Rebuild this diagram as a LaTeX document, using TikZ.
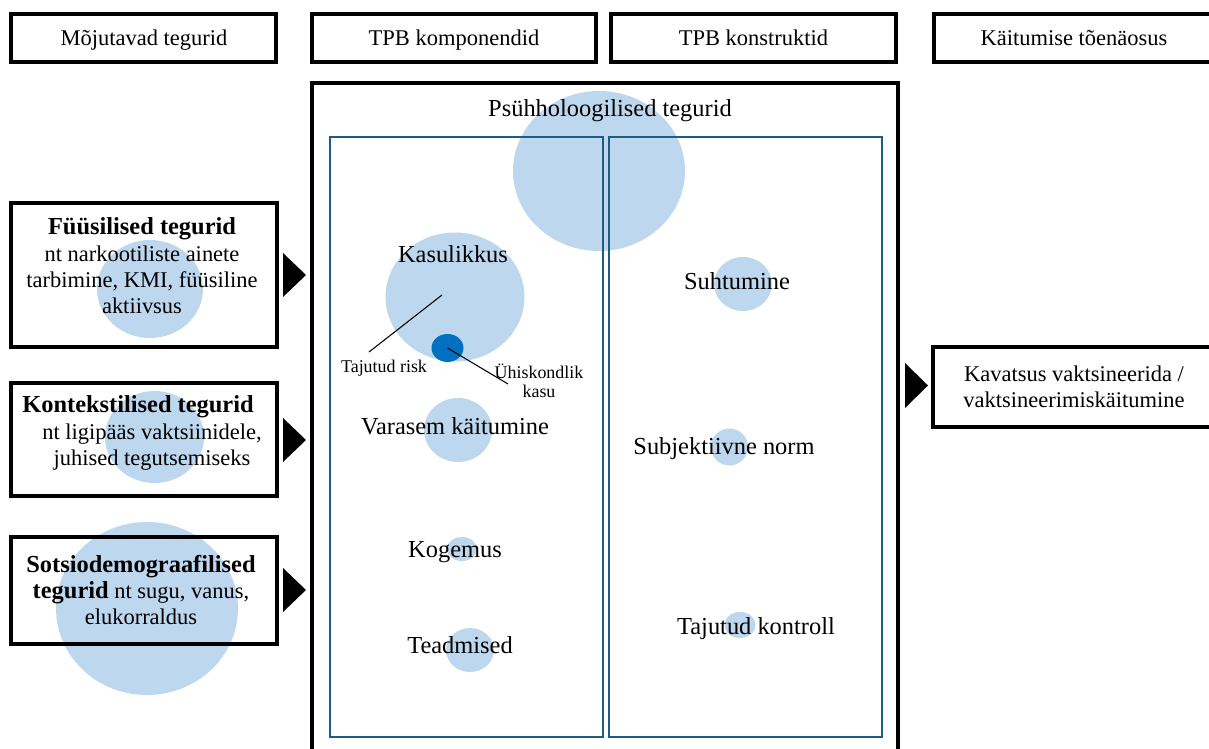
\documentclass[tikz,border=0pt]{standalone}
\usepackage{fontspec}
\setmainfont{Liberation Serif}
\usepackage{xcolor}
\definecolor{vizBubble}{HTML}{BDD7EE}
\definecolor{vizBubbleDark}{HTML}{0070C0}
\definecolor{vizPanel}{HTML}{1F5B82}
\usetikzlibrary{shapes.geometric}

\newcommand{\boxfont}{\fontsize{12.8}{15}\selectfont}
\newcommand{\labelfont}{\fontsize{13.9}{16}\selectfont}
\newcommand{\notefont}{\fontsize{10.2}{11}\selectfont}

\begin{document}
\begin{tikzpicture}[x=0.02cm, y=-0.02cm,
  bubble/.style={ellipse, fill=vizBubble, inner sep=0pt},
  frame/.style={draw=black, line width=2pt},
  panel/.style={draw=vizPanel, line width=1.2pt},
  marker/.style={fill=black},
  txt/.style={inner sep=0pt, align=center}]
  \useasboundingbox (0,0) rectangle (1209,749);
  \fill[white] (0,0) rectangle (1209,749);

  % bubbles
  \node[bubble, minimum width=3.44cm, minimum height=3.2cm] (psyB) at (599,171) {};
  \node[bubble, minimum width=2.78cm, minimum height=2.58cm] (kasB) at (455,297) {};
  \node[bubble, minimum width=1.36cm, minimum height=1.28cm] (varB) at (458,430) {};
  \node[bubble, minimum width=0.6cm, minimum height=0.48cm] (kogB) at (462,549) {};
  \node[bubble, minimum width=0.96cm, minimum height=0.88cm] (teaB) at (470,650) {};
  \node[bubble, minimum width=1.16cm, minimum height=1.08cm] (suhB) at (743,284) {};
  \node[bubble, minimum width=0.74cm, minimum height=0.74cm] (subB) at (729.5,447) {};
  \node[bubble, minimum width=0.62cm, minimum height=0.52cm] (tkB) at (740,625) {};
  \node[bubble, minimum width=2.12cm, minimum height=1.96cm] (fysB) at (150,289) {};
  \node[bubble, minimum width=1.98cm, minimum height=1.84cm] (konB) at (154.5,437) {};
  \node[bubble, minimum width=3.64cm, minimum height=3.46cm] (sotB) at (147,608.5) {};
  \node[ellipse, fill=vizBubbleDark, inner sep=0pt, minimum width=0.64cm, minimum height=0.56cm] (ukB) at (447.5,348) {};

  % frames
  \draw[frame] (11,14) rectangle (276,62);
  \draw[frame] (312,14) rectangle (596,62);
  \draw[frame] (611,14) rectangle (896,62);
  \draw[frame] (934,14) rectangle (1215,62);
  \draw[frame] (11,203) rectangle (277,347);
  \draw[frame] (11,383) rectangle (277,496);
  \draw[frame] (11,537) rectangle (277,644);
  \draw[frame] (933,347) rectangle (1215,427);
  \draw[frame] (312,83) rectangle (898,760);
  \draw[panel] (330,137) rectangle (603,737);
  \draw[panel] (609,137) rectangle (882,737);

  % markers
  \foreach \y in {275,440,590}
    \fill[marker] (283,\y-22) -- (306,\y) -- (283,\y+22) -- cycle;
  \fill[marker] (905,363) -- (928,385.5) -- (905,408) -- cycle;

  % headers
  \node[txt, font=\boxfont] (hdrA) at (144,40) {Mõjutavad tegurid};
  \node[txt, font=\boxfont] (hdrB) at (454,40) {TPB komponendid};
  \node[txt, font=\boxfont] (hdrC) at (753.5,38) {TPB konstruktid};
  \node[txt, font=\boxfont] (hdrD) at (1074,38) {Käitumise tõenäosus};

  % factors
  \node[txt, font=\boxfont] (fys) at (142,266)
    {{\labelfont\bfseries Füüsilised tegurid}\\ nt narkootiliste ainete\\ tarbimine, KMI, füüsiline\\ aktiivsus};
  \node[txt, font=\boxfont] (kon) at (138,433)
    {{\labelfont\bfseries Kontekstilised tegurid}\\ \hspace*{0.56cm}nt ligipääs vaktsiinidele,\\ \hspace*{0.56cm}juhised tegutsemiseks};
  \node[txt, font=\boxfont] (sot) at (141,590)
    {{\labelfont\bfseries Sotsiodemograafilised}\\ {\labelfont\bfseries tegurid} nt sugu, vanus,\\ elukorraldus};
  \node[txt, font=\boxfont] (out) at (1074,387)
    {Kavatsus vaktsineerida /\\ vaktsineerimiskäitumine};

  % components
  \node[txt, font=\labelfont] (psy) at (610,111) {Psühholoogilised tegurid};
  \node[txt, font=\labelfont] (kas) at (453,254) {Kasulikkus};
  \node[txt, font=\notefont] (risk) at (384,368) {Tajutud risk};
  \node[txt, font=\notefont] (uk) at (539,381) {Ühiskondlik\\ kasu};
  \node[txt, font=\labelfont] (var) at (455,426) {Varasem käitumine};
  \node[txt, font=\labelfont] (kog) at (455,552) {Kogemus};
  \node[txt, font=\labelfont] (tea) at (460,645) {Teadmised};

  % constructs
  \node[txt, font=\labelfont] (suh) at (737,281) {Suhtumine};
  \node[txt, font=\labelfont] (sub) at (724,449) {Subjektiivne norm};
  \node[txt, font=\labelfont] (tk) at (756,629) {Tajutud kontroll};

  % pointers
  \coordinate (riskA) at (369,352);
  \coordinate (riskB) at (442,295);
  \coordinate (ukA) at (508,384);
  \draw[line width=0.6pt] (riskA) -- (riskB);
  \draw[line width=0.6pt] (ukB.center) -- (ukA);
\end{tikzpicture}
\end{document}
